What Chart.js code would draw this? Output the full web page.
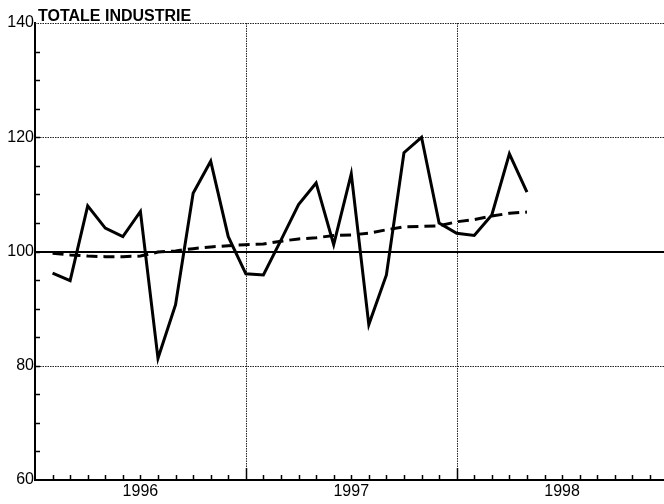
<!DOCTYPE html>
<html>
<head>
<meta charset="utf-8">
<title>Totale industrie</title>
<script src="https://cdn.jsdelivr.net/npm/chart.js@4.4.1/dist/chart.umd.min.js"></script>
<style>
  html, body { margin: 0; padding: 0; background: #fff; overflow: hidden; }
  #wrap { width: 664px; height: 504px; }
</style>
</head>
<body>
<div id="wrap"><canvas id="chart" width="664" height="504"></canvas></div>
<script>
"use strict";

/* ---------- data ---------- */
const months = [
  "1996-01", "1996-02", "1996-03", "1996-04", "1996-05", "1996-06",
  "1996-07", "1996-08", "1996-09", "1996-10", "1996-11", "1996-12",
  "1997-01", "1997-02", "1997-03", "1997-04", "1997-05", "1997-06",
  "1997-07", "1997-08", "1997-09", "1997-10", "1997-11", "1997-12",
  "1998-01", "1998-02", "1998-03", "1998-04",
];
const indexValues = [
  96.2, 94.9, 108.0, 104.1, 102.6, 107.0,
  81.3, 90.7, 110.2, 115.8, 102.6, 96.1,
  95.9, 102.0, 108.2, 112.0, 101.2, 113.6,
  87.2, 95.9, 117.3, 120.0, 105.0, 103.2,
  102.8, 106.4, 117.1, 110.4,
];
const trendValues = [
  99.7, 99.4, 99.2, 99.1, 99.1, 99.2,
  99.9, 100.1, 100.5, 100.8, 101.0, 101.2,
  101.3, 101.8, 102.2, 102.4, 102.8, 102.9,
  103.2, 103.8, 104.3, 104.4, 104.5, 105.2,
  105.6, 106.2, 106.7, 106.9,
];
const yearLabels = ["1996", "1997", "1998"];
const yTickValues = [60, 80, 100, 120, 140];
const yGridValues = [80, 120, 140];
const baseValue = 100;
const chartTitle = "TOTALE INDUSTRIE";

/* ---------- helpers ---------- */
const FIRST_YEAR = 1996;
// month-end position: Jan 1996 -> 1, Dec 1996 -> 12, ...
function monthPos(s) {
  const [y, m] = s.split("-").map(Number);
  return (y - FIRST_YEAR) * 12 + m;
}
function toPoints(values) {
  return values.map((v, i) => ({ x: monthPos(months[i]), y: v }));
}

/* ---------- grid, base line, inner ticks, title ---------- */
const framePlugin = {
  id: "frame",
  beforeDatasetsDraw(chart) {
    const { ctx, chartArea: a, scales: { x, y } } = chart;
    ctx.save();
    ctx.strokeStyle = "#222";
    ctx.lineWidth = 1;
    ctx.setLineDash([1.5, 1]);
    yGridValues.forEach((v) => {
      const py = Math.round(y.getPixelForValue(v)) + 0.5;
      ctx.beginPath(); ctx.moveTo(a.left, py); ctx.lineTo(a.right, py); ctx.stroke();
    });
    for (let m = 12; m < x.max; m += 12) {
      const px = Math.round(x.getPixelForValue(m)) + 0.5;
      ctx.beginPath(); ctx.moveTo(px, a.top); ctx.lineTo(px, a.bottom); ctx.stroke();
    }
    ctx.setLineDash([]);
    ctx.strokeStyle = "#000";

    // minor ticks, pointing into the plot
    ctx.lineWidth = 1.5;
    for (let v = y.min + 5; v < y.max; v += 5) {
      const py = Math.round(y.getPixelForValue(v)) + 0.5;
      ctx.beginPath(); ctx.moveTo(a.left, py); ctx.lineTo(a.left + 5, py); ctx.stroke();
    }
    for (let m = 1; m < x.max; m++) {
      const px = Math.round(x.getPixelForValue(m)) + 0.5;
      const len = m % 12 === 0 ? 12 : 5;
      ctx.beginPath(); ctx.moveTo(px, a.bottom); ctx.lineTo(px, a.bottom - len); ctx.stroke();
    }

    // solid base line at 100
    ctx.lineWidth = 2;
    const by = Math.round(y.getPixelForValue(baseValue));
    ctx.beginPath(); ctx.moveTo(a.left, by); ctx.lineTo(a.right, by); ctx.stroke();
    ctx.restore();
  },
  afterDraw(chart) {
    const { ctx, chartArea: a } = chart;
    ctx.save();
    ctx.fillStyle = "#000";
    ctx.font = "bold 16px 'Liberation Sans', Arial, sans-serif";
    ctx.textBaseline = "alphabetic";
    ctx.textAlign = "left";
    ctx.fillText(chartTitle, a.left + 3, a.top - 2);
    ctx.restore();
  },
};

/* ---------- chart ---------- */
const tickFont = { family: "'Liberation Sans', Arial, sans-serif", size: 16 };

new Chart(document.getElementById("chart"), {
  type: "line",
  data: {
    datasets: [
      {
        data: toPoints(trendValues),
        borderColor: "#000",
        borderWidth: 3,
        borderDash: [11, 6],
        pointRadius: 0,
        tension: 0,
        fill: false,
      },
      {
        data: toPoints(indexValues),
        borderColor: "#000",
        borderWidth: 3,
        pointRadius: 0,
        tension: 0,
        fill: false,
        borderJoinStyle: "miter",
      },
    ],
  },
  options: {
    responsive: false,
    animation: false,
    devicePixelRatio: 1,
    layout: { padding: { top: 23, right: 0, left: 0, bottom: 0 } },
    plugins: { legend: { display: false }, tooltip: { enabled: false }, title: { display: false } },
    scales: {
      x: {
        type: "linear",
        min: 0,
        max: 35.8,
        afterBuildTicks: (s) => { s.ticks = yearLabels.map((_, i) => ({ value: i * 12 + 6 })); },
        afterFit: (s) => { s.height = 24; },
        ticks: {
          callback: (v) => yearLabels[Math.round((v - 6) / 12)],
          font: tickFont, color: "#000", padding: 2, maxRotation: 0, autoSkip: false,
        },
        grid: { display: false, drawTicks: false },
        border: { display: true, color: "#000", width: 2 },
      },
      y: {
        min: 60,
        max: 140,
        afterBuildTicks: (s) => { s.ticks = yTickValues.map((v) => ({ value: v })); },
        afterFit: (s) => { s.width = 35; },
        ticks: { font: tickFont, color: "#000", padding: 1 },
        grid: { display: false, drawTicks: false },
        border: { display: true, color: "#000", width: 2 },
      },
    },
  },
  plugins: [framePlugin],
});
</script>
</body>
</html>
